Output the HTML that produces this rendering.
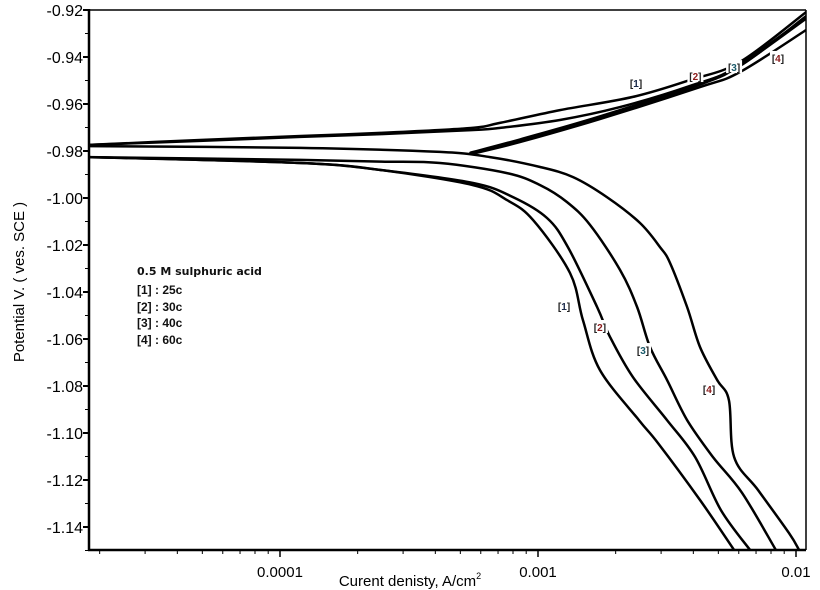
<!DOCTYPE html>
<html><head><meta charset="utf-8"><style>
html,body{margin:0;padding:0;background:#fff;}
svg{display:block;font-family:"Liberation Sans",Arial,sans-serif;}
</style></head><body>
<svg id="chart" width="820" height="590" viewBox="0 0 820 590" xmlns="http://www.w3.org/2000/svg">
<rect x="0" y="0" width="820" height="590" fill="#fff"/>
<g id="series"></g>
<g id="axes"></g>
<g id="labels"></g>
<g font-family="'DejaVu Sans',sans-serif" font-size="11" font-weight="bold" fill="#111">
<text x="137" y="275">0.5 M sulphuric acid</text>
<text x="137" y="294" font-family="'Liberation Sans Narrow','Liberation Sans',sans-serif" font-size="12">[1] : 25c</text>
<text x="137" y="311" font-family="'Liberation Sans Narrow','Liberation Sans',sans-serif" font-size="12">[2] : 30c</text>
<text x="137" y="327" font-family="'Liberation Sans Narrow','Liberation Sans',sans-serif" font-size="12">[3] : 40c</text>
<text x="137" y="344" font-family="'Liberation Sans Narrow','Liberation Sans',sans-serif" font-size="12">[4] : 60c</text>
</g>
<text x="410" y="586" font-size="15" text-anchor="middle">Curent denisty, A/cm<tspan font-size="9" dy="-7">2</tspan></text>
<text transform="translate(24,282) rotate(-90)" font-size="15" text-anchor="middle">Potential  V. ( ves. SCE )</text>
</svg>
<script>
// y-axis ticks (V)
const yTicks = [-0.92,-0.94,-0.96,-0.98,-1.00,-1.02,-1.04,-1.06,-1.08,-1.10,-1.12,-1.14];
const yTickLabels = ["-0.92","-0.94","-0.96","-0.98","-1.00","-1.02","-1.04","-1.06","-1.08","-1.10","-1.12","-1.14"];
// x-axis decade ticks (log10 A/cm2)
const xTicks = [-4,-3,-2];
const xTickLabels = ["0.0001","0.001","0.01"];
// series 1 (25c)
const cathLog1 = [-4.74,-3.92,-3.61,-3.252,-3.120,-3.019,-2.876,-2.826,-2.76,-2.609,-2.535,-2.372,-2.24];
const cathE1 = [-0.9826,-0.9851,-0.9881,-0.9945,-1.0009,-1.0094,-1.0319,-1.0519,-1.0732,-1.0945,-1.1043,-1.1285,-1.1498];
const anodLog1 = [-4.74,-4.31,-3.92,-3.61,-3.26,-3.15,-2.915,-2.632,-2.411,-2.217,-1.961];
const anodE1 = [-0.9774,-0.9753,-0.9736,-0.9723,-0.9702,-0.9681,-0.9626,-0.9570,-0.9498,-0.9421,-0.9209];
// series 2 (30c)
const cathLog2 = [-4.74,-3.92,-3.61,-3.252,-3.097,-2.965,-2.884,-2.771,-2.721,-2.632,-2.5,-2.391,-2.291,-2.178];
const cathE2 = [-0.9826,-0.9851,-0.9881,-0.9936,-0.9996,-1.0085,-1.0209,-1.0464,-1.0591,-1.0762,-1.0945,-1.1102,-1.1328,-1.1498];
const anodLog2 = [-4.74,-4.31,-3.92,-3.61,-3.26,-3.15,-2.915,-2.682,-2.411,-2.217,-1.961];
const anodE2 = [-0.9774,-0.9757,-0.9740,-0.9728,-0.9711,-0.9702,-0.9668,-0.9613,-0.9523,-0.9438,-0.9226];
// series 3 (40c)
const cathLog3 = [-4.74,-3.92,-3.61,-3.380,-3.120,-2.992,-2.888,-2.798,-2.682,-2.616,-2.566,-2.5,-2.422,-2.322,-2.209,-2.078];
const cathE3 = [-0.9826,-0.9838,-0.9845,-0.9851,-0.9894,-0.9945,-1.0017,-1.0115,-1.0306,-1.0464,-1.0634,-1.0774,-1.0945,-1.1102,-1.1255,-1.1498];
const anodLog3 = [-3.26,-3.07,-2.76,-2.372,-2.217,-1.961];
const anodE3 = [-0.9809,-0.9753,-0.9655,-0.9515,-0.9434,-0.9234];
// series 4 (60c)
const cathLog4 = [-4.74,-3.92,-3.380,-3.186,-2.992,-2.864,-2.733,-2.605,-2.527,-2.488,-2.422,-2.372,-2.306,-2.26,-2.24,-2.147,-2.027,-1.988];
const cathE4 = [-0.9779,-0.9787,-0.9804,-0.9826,-0.9868,-0.9911,-0.9996,-1.0106,-1.0209,-1.0277,-1.0464,-1.0634,-1.0774,-1.0860,-1.1102,-1.1243,-1.1426,-1.1498];
const anodLog4 = [-3.26,-3.07,-2.76,-2.372,-2.217,-1.961];
const anodE4 = [-0.9813,-0.9762,-0.9664,-0.9528,-0.9464,-0.9285];
// curve label anchors
const labelText = ["1","2","3","4"];
const cathLabelLog = [-2.899,-2.76,-2.593,-2.337];
const cathLabelE = [-1.046,-1.0549,-1.0647,-1.0813];
const anodLabelLog = [-2.62,-2.39,-2.24,-2.07];
const anodLabelE = [-0.9511,-0.9481,-0.9443,-0.9404];

const NS="http://www.w3.org/2000/svg";
const L=89,R=806,T=10,B=550;
function xs(lg){return 280+(lg+4)*258;}
function ys(e){return 10+(-0.92-e)/0.02*47;}
function mk(tag,attrs,parent){const el=document.createElementNS(NS,tag);for(const k in attrs)el.setAttribute(k,attrs[k]);parent.appendChild(el);return el;}
const axes=document.getElementById('axes');
const ser=document.getElementById('series');
const lab=document.getElementById('labels');

const clip=mk('clipPath',{id:'pc'},document.getElementById('chart'));
mk('rect',{x:L,y:T,width:R-L,height:B-T},clip);
ser.setAttribute('clip-path','url(#pc)');

let f=mk('line',{x1:L,y1:T,x2:R,y2:T,stroke:'#000','stroke-width':1.5},axes);


f=mk('line',{x1:R,y1:T,x2:R,y2:B,stroke:'#000','stroke-width':1.5},axes);


f=mk('line',{x1:L,y1:T-1,x2:L,y2:B+1,stroke:'#000','stroke-width':2.5},axes);


f=mk('line',{x1:L-1,y1:B,x2:R,y2:B,stroke:'#000','stroke-width':2.5},axes);



yTicks.forEach((v,i)=>{
  const y=ys(v);
  const t=mk('line',{x1:L-6,y1:y,x2:L,y2:y,stroke:'#000','stroke-width':2},axes);
  
  
  const m=mk('line',{x1:L-4,y1:y+23.5,x2:L,y2:y+23.5,stroke:'#000','stroke-width':1},axes);
  
  
  const tx=mk('text',{x:L-6,y:y+6,'font-size':16,'text-anchor':'end'},axes);
  tx.textContent=yTickLabels[i];
  
  
});
xTicks.forEach((v,i)=>{
  const x=xs(v);
  const t=mk('line',{x1:x,y1:B,x2:x,y2:B+7,stroke:'#000','stroke-width':1.5},axes);
  
  
  const tx=mk('text',{x:x,y:B+27,'font-size':15,'text-anchor':'middle'},axes);
  tx.textContent=xTickLabels[i];
  
  
});
for(let d=-5;d<=-2;d++){for(let k=2;k<=9;k++){const x=xs(d+Math.log10(k));if(x<L||x>R)continue;
  const m=mk('line',{x1:x,y1:B,x2:x,y2:B+4,stroke:'#000','stroke-width':1},axes);
  
  }}

function smoothPath(P){
  let d='M'+P[0][0].toFixed(1)+','+P[0][1].toFixed(1);
  for(let i=0;i<P.length-1;i++){
    const p0=P[Math.max(i-1,0)],p1=P[i],p2=P[i+1],p3=P[Math.min(i+2,P.length-1)];
    const c1x=p1[0]+(p2[0]-p0[0])/6,c1y=p1[1]+(p2[1]-p0[1])/6;
    const c2x=p2[0]-(p3[0]-p1[0])/6,c2y=p2[1]-(p3[1]-p1[1])/6;
    d+=' C'+c1x.toFixed(1)+','+c1y.toFixed(1)+' '+c2x.toFixed(1)+','+c2y.toFixed(1)+' '+p2[0].toFixed(1)+','+p2[1].toFixed(1);
  }
  return d;
}
function curve(lx,ey,name,w){
  const P=lx.map((v,i)=>[xs(v),ys(ey[i])]);
  const p=mk('path',{d:smoothPath(P),fill:'none',stroke:'#000','stroke-width':w,'stroke-linejoin':'round','stroke-linecap':'round'},ser);
  
  
}
curve(cathLog1,cathE1,'cathodic-curve-25c',2.5);
curve(anodLog1,anodE1,'anodic-curve-25c',2.5);
curve(cathLog2,cathE2,'cathodic-curve-30c',2.5);
curve(anodLog2,anodE2,'anodic-curve-30c',2.5);
curve(cathLog3,cathE3,'cathodic-curve-40c',2.5);
curve(anodLog3,anodE3,'anodic-curve-40c',3.5);
curve(cathLog4,cathE4,'cathodic-curve-60c',2.5);
curve(anodLog4,anodE4,'anodic-curve-60c',2.5);

const numCol=['#1b2a4a','#8b1a1a','#1a5a6a','#8b1a1a'];
function clabel(lg,e,i,name){
  const x=xs(lg),y=ys(e);
  const bg=mk('rect',{x:x-8,y:y-7,width:16,height:13,fill:'#fff'},lab);
  
  
  const t=mk('text',{x:x,y:y+4,'font-size':10,'font-weight':'bold','text-anchor':'middle',fill:'#222'},lab);
  
  
  t.innerHTML='['+'<tspan fill="'+numCol[i]+'">'+labelText[i]+'</tspan>]';
}
labelText.forEach((s,i)=>{clabel(cathLabelLog[i],cathLabelE[i],i,'cathodic-label-'+s);clabel(anodLabelLog[i],anodLabelE[i],i,'anodic-label-'+s);});
</script>
</body></html>
